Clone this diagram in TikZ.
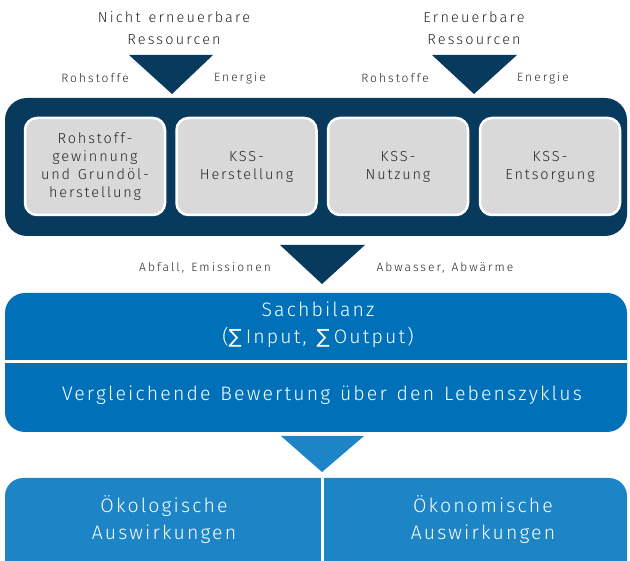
\documentclass[tikz,border=0pt]{standalone}
\usepackage{fontspec}
\setmainfont{Fira Sans}[UprightFont={* Light}, LetterSpace=11, WordSpace=1.3]
\newfontfamily\sumfont{DejaVu Sans}
\usetikzlibrary{positioning}
\definecolor{navy}{HTML}{073A5C}
\definecolor{lcablue}{HTML}{0070B9}
\definecolor{impactblue}{HTML}{1D84C6}
\definecolor{boxgrey}{HTML}{D9D9D9}
\newcommand{\sumsign}{{\sumfont ∑}\hspace{4pt}}

\begin{document}
\begin{tikzpicture}[
    x=1pt, y=-1pt,
    source/.style={font=\fontsize{14.5}{22}\selectfont\addfontfeature{LetterSpace=15}, align=center, text=black!85},
    flowlabel/.style={font=\fontsize{12}{14}\selectfont\addfontfeature{LetterSpace=17}, text=black!85},
    phase/.style={
        draw=white,
        fill=boxgrey,
        line width=2.5pt,
        rounded corners=12pt,
        minimum width=140pt,
        minimum height=97pt,
        align=center,
        font=\fontsize{14.5}{18}\selectfont\addfontfeature{LetterSpace=13},
        text=black!85
    },
    bluetext/.style={font=\fontsize{19.5}{27}\selectfont, text=white, align=center},
    divider/.style={white, line width=3pt}
]
    \useasboundingbox (0,0) rectangle (630,561);

    % RESOURCES
    \node[source] (nonren) at (174,28) {Nicht erneuerbare\\Ressourcen};
    \node[source] (ren) at (474,28) {Erneuerbare\\Ressourcen};

    \fill[navy] (129,55) -- (213,55) -- (172,94) -- cycle;
    \fill[navy] (432,55) -- (517,55) -- (474,94) -- cycle;

    \node[flowlabel] (raw1) at (95,78) {Rohstoffe};
    \node[flowlabel] (energy1) at (240,78) {Energie};
    \node[flowlabel] (raw2) at (395,78) {Rohstoffe};
    \node[flowlabel] (energy2) at (543,78) {Energie};

    % LIFE CYCLE
    \node[fill=navy, rounded corners=22pt, minimum width=622pt, minimum height=138pt, inner sep=0pt] (cycle) at (316,167) {};

    \node[phase] (extract) at (95,166.5) {Rohstoff-\\gewinnung\\und Grundöl-\\herstellung};
    \node[phase] (produce) at (246.5,166.5) {KSS-\\Herstellung};
    \node[phase] (use) at (398,166.5) {KSS-\\Nutzung};
    \node[phase] (dispose) at (550,166.5) {KSS-\\Entsorgung};

    % OUTPUTS
    \fill[navy] (280,245) -- (365,245) -- (322,284) -- cycle;
    \node[flowlabel] (waste) at (205,268) {Abfall, Emissionen};
    \node[flowlabel] (heat) at (445,268) {Abwasser, Abwärme};

    % INVENTORY AND ASSESSMENT
    \fill[lcablue, rounded corners=20pt] (5,293) rectangle (627,432);
    \draw[divider] (5,362) -- (627,362);
    \node[bluetext] (inventory) at (318,325) {Sachbilanz\\(\sumsign Input, \sumsign Output)};
    \node[bluetext] (assess) at (322,395) {Vergleichende Bewertung über den Lebenszyklus};

    % IMPACTS
    \fill[impactblue] (281,436) -- (364,436) -- (322,472) -- cycle;
    \fill[impactblue, rounded corners=18pt] (5,478) rectangle (627,600);
    \draw[divider] (322,478) -- (322,561);
    \node[bluetext] (eco) at (164,520) {Ökologische\\Auswirkungen};
    \node[bluetext] (econ) at (483,520) {Ökonomische\\Auswirkungen};
\end{tikzpicture}
\end{document}
